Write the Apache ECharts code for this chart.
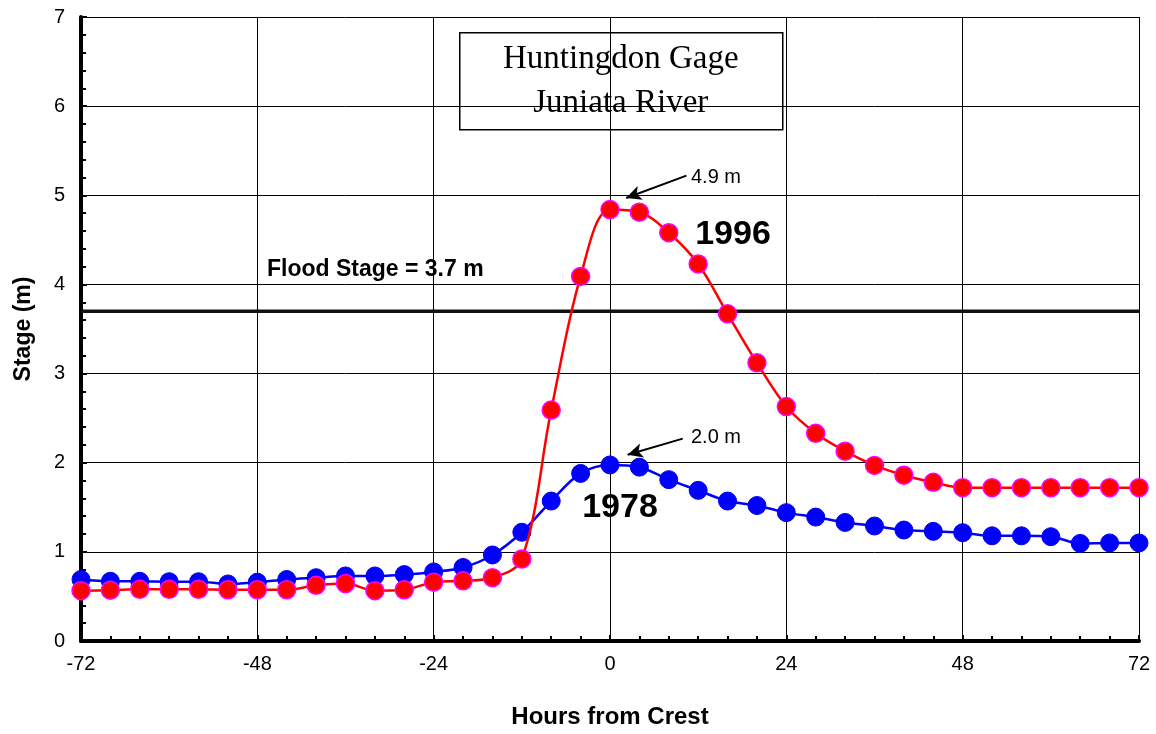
<!DOCTYPE html>
<html>
<head>
<meta charset="utf-8">
<title>Huntingdon Gage - Juniata River</title>
<script src="https://cdn.jsdelivr.net/npm/echarts@6/dist/echarts.min.js"></script>
<style>
  html, body { margin: 0; padding: 0; background: #fff; }
  #chart { width: 1156px; height: 734px; }
</style>
</head>
<body>
<div id="chart"></div>
<script>
// hours from crest, one reading every 4 hours
var hours = [-72, -68, -64, -60, -56, -52, -48, -44, -40, -36, -32, -28, -24, -20, -16, -12, -8, -4,
  0, 4, 8, 12, 16, 20, 24, 28, 32, 36, 40, 44, 48, 52, 56, 60, 64, 68, 72];

// stage (m), 1978 flood
var stage1978 = [0.69, 0.67, 0.67, 0.665, 0.665, 0.64, 0.66, 0.69, 0.71, 0.73, 0.73, 0.745, 0.775, 0.825, 0.965, 1.22, 1.57, 1.88,
  1.975, 1.95, 1.81, 1.69, 1.57, 1.52, 1.44, 1.39, 1.33, 1.29, 1.245, 1.23, 1.215, 1.18, 1.18, 1.17, 1.095, 1.10, 1.10];

// stage (m), 1996 flood
var stage1996 = [0.565, 0.57, 0.58, 0.58, 0.58, 0.575, 0.575, 0.575, 0.625, 0.645, 0.565, 0.575, 0.66, 0.675, 0.71, 0.92, 2.59, 4.09,
  4.84, 4.81, 4.58, 4.23, 3.67, 3.12, 2.63, 2.33, 2.13, 1.97, 1.86, 1.78, 1.72, 1.72, 1.72, 1.72, 1.72, 1.72, 1.72];

var floodStage = 3.7;
var floodHours = [-72, 72];

// annotation arrows: [tail, head] as [hour, stage]
var arrow1996 = [[10.4, 5.22], [2.2, 4.97]];
var arrow1978 = [[9.9, 2.27], [2.4, 2.09]];

var FONT = 'Arial, "Liberation Sans", sans-serif';

function pairs(xs, ys) {
  return xs.map(function (x, i) { return [x, ys[i]]; });
}

function arrowLine(tailHead) {
  return {
    silent: true,
    symbol: ['none', 'arrow'],
    symbolSize: [11, 15],
    label: { show: false },
    lineStyle: { color: '#000', width: 2, type: 'solid' },
    itemStyle: { color: '#000' },
    data: [[{ coord: tailHead[0] }, { coord: tailHead[1] }]]
  };
}

var chart = echarts.init(document.getElementById('chart'));

var option = {
  backgroundColor: '#fff',
  animation: false,
  grid: { left: 81, right: 17, top: 17, bottom: 93, outerBoundsMode: 'none', containLabel: false },
  xAxis: {
    type: 'value',
    min: -72,
    max: 72,
    interval: 24,
    name: 'Hours from Crest',
    nameLocation: 'middle',
    nameGap: 64,
    nameTextStyle: { fontFamily: FONT, fontWeight: 'bold', fontSize: 24, color: '#000' },
    axisLine: { onZero: false, lineStyle: { color: '#000', width: 4 } },
    axisTick: { inside: true, length: 6, lineStyle: { color: '#000', width: 2 } },
    minorTick: { show: true, splitNumber: 6, length: 5, lineStyle: { color: '#000', width: 2 } },
    axisLabel: { fontFamily: FONT, fontSize: 20, color: '#000', margin: 13 },
    splitLine: { show: true, lineStyle: { color: '#000', width: 1 } }
  },
  yAxis: {
    type: 'value',
    min: 0,
    max: 7,
    interval: 1,
    name: 'Stage (m)',
    nameLocation: 'middle',
    nameGap: 46,
    nameTextStyle: { fontFamily: FONT, fontWeight: 'bold', fontSize: 23, color: '#000' },
    axisLine: { show: true, onZero: false, lineStyle: { color: '#000', width: 4 } },
    axisTick: { show: true, inside: true, length: 6, lineStyle: { color: '#000', width: 2 } },
    minorTick: { show: true, splitNumber: 5, length: 5, lineStyle: { color: '#000', width: 2 } },
    axisLabel: { fontFamily: FONT, fontSize: 20, color: '#000', margin: 16 },
    splitLine: { show: true, lineStyle: { color: '#000', width: 1 } }
  },
  series: [
    {
      // flood stage line
      name: 'Flood Stage',
      type: 'line',
      data: pairs(floodHours, [floodStage, floodStage]),
      symbol: 'none',
      lineStyle: { color: '#111', width: 3.5 },
      z: 2
    },
    {
      name: '1978',
      type: 'line',
      data: pairs(hours, stage1978),
      smooth: 0.35,
      symbol: 'circle',
      symbolSize: 18,
      itemStyle: { color: '#0000ff', borderColor: '#0000ee', borderWidth: 1 },
      lineStyle: { color: '#0000ff', width: 2.5 },
      markLine: arrowLine(arrow1978),
      z: 3
    },
    {
      name: '1996',
      type: 'line',
      data: pairs(hours, stage1996),
      smooth: 0.35,
      symbol: 'circle',
      symbolSize: 18,
      itemStyle: { color: '#ff0000', borderColor: '#ff00ff', borderWidth: 1.5 },
      lineStyle: { color: '#ff0000', width: 2.5 },
      markLine: arrowLine(arrow1996),
      z: 4
    }
  ],
  graphic: [
    // title box
    {
      type: 'group',
      left: 459,
      top: 32,
      z: 10,
      children: [
        {
          type: 'rect',
          shape: { x: 0, y: 0, width: 323, height: 97 },
          style: { fill: '#fff', stroke: '#000', lineWidth: 1.5 }
        },
        {
          type: 'text',
          x: 161, y: 27,
          style: { text: 'Huntingdon Gage', font: '33px "Liberation Serif", "Times New Roman", serif',
            fill: '#000', textAlign: 'center', textVerticalAlign: 'middle' }
        },
        {
          type: 'text',
          x: 161, y: 71,
          style: { text: 'Juniata River', font: '33px "Liberation Serif", "Times New Roman", serif',
            fill: '#000', textAlign: 'center', textVerticalAlign: 'middle' }
        }
      ]
    },
    {
      type: 'text', x: 267, y: 270, z: 10,
      style: { text: 'Flood Stage = 3.7 m', font: 'bold 23px ' + FONT, fill: '#000', textVerticalAlign: 'middle' }
    },
    {
      type: 'text', x: 733, y: 235, z: 10,
      style: { text: '1996', font: 'bold 34px ' + FONT, fill: '#000', textAlign: 'center', textVerticalAlign: 'middle' }
    },
    {
      type: 'text', x: 620, y: 508, z: 10,
      style: { text: '1978', font: 'bold 34px ' + FONT, fill: '#000', textAlign: 'center', textVerticalAlign: 'middle' }
    },
    {
      type: 'text', x: 691, y: 177, z: 10,
      style: { text: '4.9 m', font: '20px ' + FONT, fill: '#000', textVerticalAlign: 'middle' }
    },
    {
      type: 'text', x: 691, y: 437, z: 10,
      style: { text: '2.0 m', font: '20px ' + FONT, fill: '#000', textVerticalAlign: 'middle' }
    }
  ]
};

chart.setOption(option);
</script>
</body>
</html>
